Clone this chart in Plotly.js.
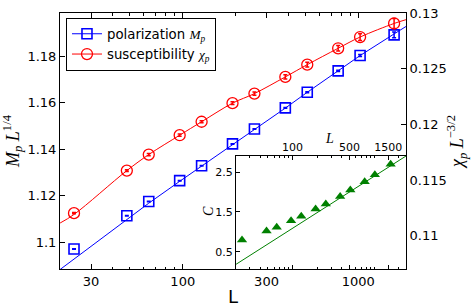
<!DOCTYPE html>
<html><head><meta charset="utf-8">
<script src="https://cdn.plot.ly/plotly-3.0.1.min.js"></script>
<style>html,body{margin:0;padding:0;background:#fff}</style>
</head><body>
<div id="chart" style="width:474px;height:307px"></div>
<script>
// System sizes
const sizesL = [24, 48, 64, 96, 128, 192, 256, 384, 512, 768, 1024, 1600];
// polarization M_p L^{1/4} (left axis)
const polarization = [1.0971, 1.1114, 1.1175, 1.1265, 1.1329, 1.1423, 1.1487, 1.1578, 1.1645, 1.1737, 1.1803, 1.1892];
const polarizationErr = [0.0001, 0.0001, 0.0001, 0.0001, 0.0001, 0.0001, 0.0001, 0.0002, 0.0002, 0.0003, 0.0004, 0.0012];
// susceptibility chi_p L^{-3/2} (right axis)
const susceptibility = [0.11202, 0.11584, 0.11728, 0.11902, 0.12023, 0.12190, 0.12276, 0.12426, 0.12536, 0.12683, 0.12784, 0.12906];
const susceptibilityErr = [0.00005, 0.00008, 0.0001, 0.0001, 0.0001, 0.00012, 0.00015, 0.0002, 0.00022, 0.00025, 0.0003, 0.00045];
// fitted curves
const fitL = [20, 24, 48, 64, 96, 128, 192, 256, 384, 512, 768, 1024, 1600, 1870];
const polarizationFit = [1.0883, 1.0928, 1.1097, 1.1168, 1.1262, 1.1327, 1.1421, 1.1486, 1.1577, 1.1645, 1.1737, 1.1803, 1.1896, 1.1928];
const susceptibilityFit = [0.11113, 0.11190, 0.11584, 0.11728, 0.11902, 0.12023, 0.12190, 0.12276, 0.12426, 0.12536, 0.12683, 0.12784, 0.12906, 0.12940];
// inset: C vs L
const specificHeat = [0.795, 1.021, 1.115, 1.281, 1.392, 1.576, 1.700, 1.893, 2.054, 2.263, 2.440, 2.700];
const heatFitL = [20.3, 2470];
const heatFit = [0.183, 2.91];
// tick labels
const mainXTicks = [30, 100, 300, 1000];
const mainXTickText = ['30', '100', '300', '1000'];
const leftTicks = [1.1, 1.12, 1.14, 1.16, 1.18];
const leftTickText = ['1.1', '1.12', '1.14', '1.16', '1.18'];
const rightTicks = [0.11, 0.115, 0.12, 0.125, 0.13];
const rightTickText = ['0.11', '0.115', '0.12', '0.125', '0.13'];
const insetXTicks = [100, 500, 1500];
const insetXTickText = ['100', '500', '1500'];
const insetYTicks = [0.5, 1.5, 2.5];
const insetYTickText = ['0.5', '1.5', '2.5'];

const BLUE = '#0000ff', RED = '#ff0000', GREEN = '#008000';
const SANS = 'DejaVu Sans, sans-serif';
const SERIF = 'Liberation Serif, DejaVu Serif, serif';
const mathM = "<span style=\"font-family:'Liberation Serif'\"><i>M</i><sub><i>p</i></sub></span>";
const mathChi = "<span style=\"font-family:'Liberation Serif'\"><i>χ</i><sub><i>p</i></sub></span>";

const blueMarker = {symbol: 'square-open', size: 10, color: BLUE, line: {width: 1.6, color: BLUE}};
const redMarker = {symbol: 'circle-open', size: 11, color: RED, line: {width: 1.3, color: RED}};

const traces = [
  {x: fitL, y: polarizationFit, xaxis: 'x', yaxis: 'y', mode: 'lines', line: {color: BLUE, width: 1}, showlegend: false, hoverinfo: 'skip'},
  {x: fitL, y: susceptibilityFit, xaxis: 'x', yaxis: 'y2', mode: 'lines', line: {color: RED, width: 1, shape: 'spline'}, showlegend: false, hoverinfo: 'skip'},
  {x: sizesL, y: polarization, xaxis: 'x', yaxis: 'y', mode: 'markers', showlegend: false, marker: blueMarker,
   error_y: {type: 'data', array: polarizationErr, visible: true, color: BLUE, thickness: 1.5, width: 2}},
  {x: sizesL, y: susceptibility, xaxis: 'x', yaxis: 'y2', mode: 'markers', showlegend: false, marker: redMarker,
   error_y: {type: 'data', array: susceptibilityErr, visible: true, color: RED, thickness: 1.5, width: 2}},
  {x: heatFitL, y: heatFit, xaxis: 'x2', yaxis: 'y3', mode: 'lines', line: {color: GREEN, width: 1}, showlegend: false, hoverinfo: 'skip'},
  {x: sizesL, y: specificHeat, xaxis: 'x2', yaxis: 'y3', mode: 'markers', showlegend: false,
   marker: {symbol: 'triangle-up', size: 9, color: GREEN, line: {width: 0}}},
  // legend entries (marker with line through, as in the original legend)
  {x: [null], y: [null], xaxis: 'x', yaxis: 'y', mode: 'lines+markers', name: 'polarization ' + mathM,
   marker: blueMarker, line: {color: BLUE, width: 1}},
  {x: [null], y: [null], xaxis: 'x', yaxis: 'y2', mode: 'lines+markers', name: 'susceptibility ' + mathChi,
   marker: redMarker, line: {color: RED, width: 1}}
];

const minorMain = [20, 40, 50, 60, 70, 80, 90, 200, 400, 500, 600, 700, 800, 900];
const minorInset = [30, 40, 50, 60, 70, 80, 90, 200, 300, 400, 600, 700, 800, 900, 1000, 2000];

const layout = {
  width: 474, height: 307,
  margin: {l: 60, r: 68, t: 13, b: 38, pad: 0},
  paper_bgcolor: '#fff', plot_bgcolor: '#fff',
  font: {family: SANS, size: 13, color: '#000'},
  showlegend: true,
  legend: {x: 0.0173, y: 0.982, xanchor: 'left', yanchor: 'top', bgcolor: '#fff',
    bordercolor: '#000', borderwidth: 1, font: {family: SANS, size: 13.3, color: '#000'}, tracegroupgap: 0},
  xaxis: {type: 'log', range: [1.3004, 3.2719], domain: [0, 1], anchor: 'y',
    tickmode: 'array', tickvals: mainXTicks, ticktext: mainXTickText,
    ticks: 'inside', ticklen: 5, tickwidth: 1, tickcolor: '#000',
    minor: {tickmode: 'array', tickvals: minorMain, ticks: 'inside', ticklen: 2.5, tickwidth: 1, tickcolor: '#000', showgrid: false},
    showline: true, linecolor: '#000', linewidth: 1, mirror: 'ticks', showgrid: false, zeroline: false,
    tickfont: {family: SANS, size: 13},
    title: {text: 'L', font: {family: SANS, size: 18}, standoff: 2}},
  yaxis: {range: [1.0885, 1.1986], domain: [0, 1], anchor: 'x',
    tickmode: 'array', tickvals: leftTicks, ticktext: leftTickText,
    ticks: 'inside', ticklen: 5, tickcolor: '#000',
    showline: true, linecolor: '#000', linewidth: 1, mirror: true, showgrid: false, zeroline: false,
    tickfont: {family: SANS, size: 13},
    title: {text: '<i>M</i><sub><i>p</i></sub> <i>L</i><sup>1/4</sup>', font: {family: SERIF, size: 18}, standoff: 6}},
  yaxis2: {range: [0.107, 0.13], overlaying: 'y', side: 'right', anchor: 'x',
    tickmode: 'array', tickvals: rightTicks, ticktext: rightTickText,
    ticks: 'inside', ticklen: 5, tickcolor: '#000',
    showline: true, linecolor: '#000', linewidth: 1, showgrid: false, zeroline: false,
    tickfont: {family: SANS, size: 13},
    title: {text: '<i>χ</i><sub><i>p</i></sub> <i>L</i><sup>−3/2</sup>', font: {family: SERIF, size: 18}, standoff: 4}},
  xaxis2: {type: 'log', range: [1.3066, 3.3925], domain: [0.5087, 1], anchor: 'y3', side: 'top',
    tickmode: 'array', tickvals: insetXTicks, ticktext: insetXTickText,
    ticks: 'inside', ticklen: 4, tickcolor: '#000',
    minor: {tickmode: 'array', tickvals: minorInset, ticks: 'inside', ticklen: 2, tickwidth: 1, tickcolor: '#000', showgrid: false},
    showline: true, linecolor: '#000', linewidth: 1, mirror: 'ticks', showgrid: false, zeroline: false,
    tickfont: {family: SANS, size: 11}},
  yaxis3: {range: [0.064, 2.91], domain: [0, 0.4414], anchor: 'x2',
    tickmode: 'array', tickvals: insetYTicks, ticktext: insetYTickText,
    ticks: 'inside', ticklen: 4, tickcolor: '#000',
    showline: true, linecolor: '#000', linewidth: 1, mirror: true, showgrid: false, zeroline: false,
    tickfont: {family: SANS, size: 11}},
  annotations: [
    {xref: 'paper', yref: 'paper', x: (329 - 60) / 346, y: (269 - 138) / 256, text: '<i>L</i>', showarrow: false,
     font: {family: SERIF, size: 14, color: '#000'}, xanchor: 'center', yanchor: 'middle'},
    {xref: 'paper', yref: 'paper', x: (208 - 60) / 346, y: (269 - 211) / 256, text: '<i>C</i>', showarrow: false,
     textangle: -90, font: {family: SERIF, size: 14, color: '#000'}, xanchor: 'center', yanchor: 'middle'}
  ]
};

Plotly.newPlot('chart', traces, layout, {displayModeBar: false, staticPlot: true});
</script>
</body></html>
